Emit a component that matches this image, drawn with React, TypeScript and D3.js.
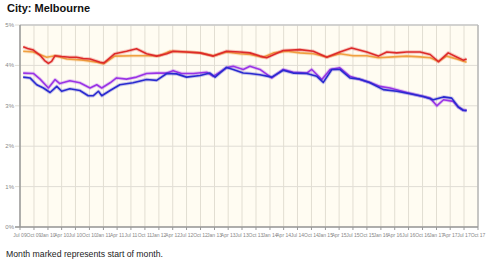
import React from "react";
import * as d3 from "d3";

const title = "City: Melbourne";
const footnote = "Month marked represents start of month.";
const yTicks = [0, 1, 2, 3, 4, 5];
const xTickLabels = [
  "Jul 09", "Oct 09",
  "Jan 10", "Apr 10", "Jul 10", "Oct 10",
  "Jan 11", "Apr 11", "Jul 11", "Oct 11",
  "Jan 12", "Apr 12", "Jul 12", "Oct 12",
  "Jan 13", "Apr 13", "Jul 13", "Oct 13",
  "Jan 14", "Apr 14", "Jul 14", "Oct 14",
  "Jan 15", "Apr 15", "Jul 15", "Oct 15",
  "Jan 16", "Apr 16", "Jul 16", "Oct 16",
  "Jan 17", "Apr 17", "Jul 17", "Oct 17",
];

const redSeries: [string, number][] = [
  ["2009-07-22", 4.46], ["2009-08-20", 4.42], ["2009-09-27", 4.38], ["2009-11-10", 4.25], ["2009-12-10", 4.12],
  ["2010-01-04", 4.05], ["2010-01-25", 4.1], ["2010-02-17", 4.24], ["2010-04-01", 4.22], ["2010-05-25", 4.2],
  ["2010-07-08", 4.2], ["2010-08-21", 4.17], ["2010-10-05", 4.16], ["2010-12-10", 4.08], ["2011-01-05", 4.06],
  ["2011-03-17", 4.29], ["2011-06-02", 4.35], ["2011-08-07", 4.41], ["2011-10-12", 4.29], ["2011-12-17", 4.23],
  ["2012-02-22", 4.29], ["2012-04-04", 4.35], ["2012-07-01", 4.33], ["2012-09-28", 4.31], ["2012-12-24", 4.23],
  ["2013-03-21", 4.35], ["2013-06-17", 4.33], ["2013-08-22", 4.31], ["2013-10-27", 4.23], ["2013-12-10", 4.19],
  ["2014-03-29", 4.37], ["2014-07-17", 4.39], ["2014-10-13", 4.35], ["2015-01-10", 4.2], ["2015-04-06", 4.33],
  ["2015-06-22", 4.43], ["2015-09-30", 4.33], ["2015-12-15", 4.23], ["2016-02-09", 4.33], ["2016-04-14", 4.31],
  ["2016-06-19", 4.33], ["2016-09-15", 4.33], ["2016-11-20", 4.27], ["2017-01-14", 4.09], ["2017-03-19", 4.31],
  ["2017-05-13", 4.21], ["2017-06-26", 4.13], ["2017-07-18", 4.16],
];

const orangeSeries: [string, number][] = [
  ["2009-07-22", 4.35], ["2009-09-27", 4.33], ["2009-12-24", 4.2], ["2010-02-17", 4.24], ["2010-05-04", 4.16],
  ["2010-08-21", 4.13], ["2010-11-18", 4.08], ["2011-01-01", 4.04], ["2011-03-17", 4.23], ["2011-07-15", 4.24],
  ["2011-10-12", 4.24], ["2012-01-08", 4.24], ["2012-03-13", 4.35], ["2012-07-01", 4.33], ["2012-09-28", 4.31],
  ["2012-12-24", 4.24], ["2013-03-21", 4.33], ["2013-06-17", 4.29], ["2013-08-22", 4.27], ["2013-11-18", 4.2],
  ["2014-01-24", 4.31], ["2014-04-20", 4.35], ["2014-07-17", 4.31], ["2014-10-13", 4.29], ["2015-01-10", 4.21],
  ["2015-04-06", 4.29], ["2015-07-02", 4.24], ["2015-09-30", 4.24], ["2015-12-15", 4.19], ["2016-03-22", 4.21],
  ["2016-06-19", 4.23], ["2016-09-15", 4.21], ["2016-11-20", 4.19], ["2017-01-14", 4.1], ["2017-03-08", 4.23],
  ["2017-05-13", 4.16], ["2017-07-18", 4.08],
];

const purpleSeries: [string, number][] = [
  ["2009-07-22", 3.81], ["2009-09-27", 3.8], ["2009-11-10", 3.66], ["2010-01-04", 3.44], ["2010-02-17", 3.65],
  ["2010-03-20", 3.55], ["2010-05-25", 3.62], ["2010-07-30", 3.57], ["2010-10-05", 3.44], ["2010-11-18", 3.52],
  ["2010-12-21", 3.44], ["2011-02-14", 3.57], ["2011-03-28", 3.69], ["2011-06-02", 3.66], ["2011-08-07", 3.71],
  ["2011-10-12", 3.8], ["2011-12-17", 3.81], ["2012-02-22", 3.81], ["2012-04-04", 3.87], ["2012-05-29", 3.8],
  ["2012-08-14", 3.8], ["2012-11-11", 3.83], ["2012-12-24", 3.73], ["2013-03-21", 3.94], ["2013-05-04", 3.98],
  ["2013-07-09", 3.9], ["2013-08-22", 3.98], ["2013-10-27", 3.9], ["2014-01-13", 3.69], ["2014-03-29", 3.9],
  ["2014-06-03", 3.83], ["2014-08-31", 3.81], ["2014-10-03", 3.9], ["2014-12-08", 3.65], ["2015-02-01", 3.9],
  ["2015-04-06", 3.94], ["2015-06-11", 3.73], ["2015-08-16", 3.65], ["2015-10-21", 3.58], ["2015-12-26", 3.48],
  ["2016-03-01", 3.44], ["2016-06-19", 3.33], ["2016-09-15", 3.25], ["2016-11-20", 3.19], ["2017-01-03", 3.0],
  ["2017-02-16", 3.15], ["2017-04-21", 3.11], ["2017-05-24", 2.97], ["2017-06-26", 2.89], ["2017-07-18", 2.89],
];

const blueSeries: [string, number][] = [
  ["2009-07-22", 3.71], ["2009-09-05", 3.69], ["2009-10-19", 3.52], ["2009-12-02", 3.44], ["2010-01-15", 3.33],
  ["2010-02-28", 3.48], ["2010-04-01", 3.36], ["2010-05-25", 3.42], ["2010-07-30", 3.38], ["2010-09-23", 3.25],
  ["2010-10-27", 3.25], ["2010-11-29", 3.36], ["2010-12-21", 3.25], ["2011-02-14", 3.38], ["2011-04-19", 3.52],
  ["2011-07-15", 3.57], ["2011-10-12", 3.65], ["2011-12-17", 3.63], ["2012-02-22", 3.8], ["2012-04-26", 3.79],
  ["2012-07-01", 3.71], ["2012-09-28", 3.75], ["2012-12-02", 3.81], ["2013-01-05", 3.71], ["2013-03-21", 3.95],
  ["2013-05-04", 3.9], ["2013-07-09", 3.81], ["2013-08-22", 3.8], ["2013-10-27", 3.77], ["2014-01-13", 3.71],
  ["2014-03-29", 3.88], ["2014-06-03", 3.81], ["2014-08-31", 3.8], ["2014-11-05", 3.73], ["2014-12-18", 3.58],
  ["2015-02-12", 3.9], ["2015-04-06", 3.9], ["2015-06-11", 3.69], ["2015-08-16", 3.66], ["2015-10-21", 3.57],
  ["2016-01-17", 3.4], ["2016-04-14", 3.36], ["2016-07-10", 3.3], ["2016-10-06", 3.23], ["2016-12-11", 3.15],
  ["2017-02-16", 3.22], ["2017-04-11", 3.19], ["2017-05-24", 2.97], ["2017-06-26", 2.89], ["2017-07-18", 2.88],
];

const seriesList = [
  { name: "orange", data: orangeSeries, color: "#f0a040" },
  { name: "red", data: redSeries, color: "#dd2a2a" },
  { name: "purple", data: purpleSeries, color: "#9a34e6" },
  { name: "blue", data: blueSeries, color: "#2a2ad0" },
];

const W = 490;
const H = 261;
const L = 20, R = 478, T = 25, B = 227;

export default function App() {
  const parse = d3.utcParse("%Y-%m-%d");
  const x = d3.scaleUtc()
    .domain([new Date(Date.UTC(2009, 6, 1)), new Date(Date.UTC(2017, 9, 1))])
    .range([L, R]);
  const y = d3.scaleLinear().domain([0, 5]).range([B, T]);
  const tickDates = d3.utcMonth.every(3)!.range(new Date(Date.UTC(2009, 6, 1)), new Date(Date.UTC(2017, 9, 2)));
  const line = d3.line<[string, number]>()
    .x((d) => x(parse(d[0])!))
    .y((d) => y(d[1]))
    .curve(d3.curveLinear);

  return (
    <svg width={W} height={H} style={{ position: "absolute", left: 0, top: 0, background: "#fff" }}
      fontFamily="Arial, 'Liberation Sans', sans-serif">
      <text x={7} y={12} fontSize={11} fontWeight="bold" fill="#111">{title}</text>
      <rect x={L} y={T} width={R - L} height={B - T} fill="#fffcf2" />
      {tickDates.map((d, i) => (
        <line key={"vg" + i} x1={x(d)} x2={x(d)} y1={T} y2={B} stroke="#e2ded2" strokeWidth={1} />
      ))}
      {yTicks.map((v) => (
        <line key={"hg" + v} x1={L - 5} x2={R} y1={y(v)} y2={y(v)} stroke="#e0ddd5" strokeWidth={1} />
      ))}
      <line x1={L} x2={R} y1={T} y2={T} stroke="#c8c8c8" strokeWidth={1.5} />
      <line x1={R} x2={R} y1={T} y2={B} stroke="#b8b8b8" strokeWidth={1.5} />
      {seriesList.map((s) => (
        <g key={s.name}>
          <path d={line(s.data) || ""} fill="none" stroke={s.color} strokeOpacity={0.25} strokeWidth={3.5} strokeLinejoin="round" />
          <path d={line(s.data) || ""} fill="none" stroke={s.color} strokeWidth={1.6} strokeLinejoin="round" />
        </g>
      ))}
      <line x1={L} x2={L} y1={T} y2={B} stroke="#999" strokeWidth={1.5} />
      <line x1={L - 5} x2={R} y1={B} y2={B} stroke="#999" strokeWidth={1.5} />
      {tickDates.map((d, i) => (
        <line key={"xt" + i} x1={x(d)} x2={x(d)} y1={B} y2={B + 3} stroke="#999" strokeWidth={1} />
      ))}
      {yTicks.map((v) => (
        <text key={"yl" + v} x={L - 6} y={y(v) + 2} fontSize={6} fill="#888" textAnchor="end">{v}%</text>
      ))}
      {tickDates.map((d, i) => (
        <text key={"xl" + i} x={x(d)} y={237} fontSize={5} fill="#888" textAnchor="middle">{xTickLabels[i]}</text>
      ))}
      <text x={6} y={257} fontSize={8.7} fill="#222">{footnote}</text>
    </svg>
  );
}
